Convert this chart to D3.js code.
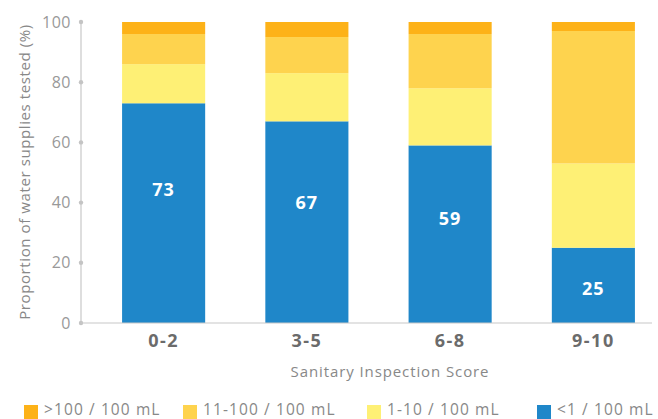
<!DOCTYPE html>
<html><head><meta charset="utf-8">
<script src="https://cdn.jsdelivr.net/npm/d3@7"></script>
<style>
body{margin:0;background:#fff;}
svg{display:block;font-family:"Open Sans",Lato,sans-serif;}
</style></head>
<body><svg id="c" width="658" height="419"></svg>
<script>
const categories = ["0-2","3-5","6-8","9-10"];
const seriesNames = ["<1 / 100 mL","1-10 / 100 mL","11-100 / 100 mL",">100 / 100 mL"];
const lt1 = [73,67,59,25];
const s1to10 = [13,16,19,28];
const s11to100 = [10,12,18,44];
const gt100 = [4,5,4,3];
const yTicks = [0,20,40,60,80,100];
const colors = ["#1F87C9","#FEF075","#FED34E","#FDB218"];

const svg = d3.select("#c");
const y = d3.scaleLinear().domain([0,100]).range([323,22]);
const x = d3.scaleBand().domain(categories).range([92,665]).paddingInner(0.42).paddingOuter(0.21);

const rows = categories.map((c,i)=>({cat:c,"<1 / 100 mL":lt1[i],"1-10 / 100 mL":s1to10[i],"11-100 / 100 mL":s11to100[i],">100 / 100 mL":gt100[i]}));
const stacked = d3.stack().keys(seriesNames)(rows);

// bars
svg.append("g").selectAll("g").data(stacked).join("g")
  .attr("fill",(d,i)=>colors[i])
  .selectAll("rect").data(d=>d).join("rect")
  .attr("x",d=>x(d.data.cat))
  .attr("width",x.bandwidth())
  .attr("y",d=>y(d[1]))
  .attr("height",d=>y(d[0])-y(d[1]));

// y axis
const yAxis = svg.append("g");
yAxis.append("line").attr("x1",81).attr("x2",81).attr("y1",y(100)).attr("y2",y(0)).attr("stroke","#c8c8c8").attr("stroke-width",1.2);
yAxis.selectAll("circle").data(yTicks).join("circle").attr("cx",81).attr("cy",d=>y(d)).attr("r",2.2).attr("fill","#c4c4c4");
yAxis.selectAll("text").data(yTicks).join("text")
  .attr("x",71).attr("y",d=>y(d)).attr("dy","0.35em").attr("text-anchor","end")
  .attr("font-size",16).attr("letter-spacing",0.5).attr("fill","#999").text(d=>d);

// x axis line
svg.append("line").attr("x1",81).attr("x2",652).attr("y1",y(0)).attr("y2",y(0)).attr("stroke","#c8c8c8").attr("stroke-width",1.2);
svg.append("g").selectAll("text").data(categories).join("text")
  .attr("x",d=>x(d)+x.bandwidth()/2).attr("y",347).attr("text-anchor","middle")
  .attr("font-size",18).attr("letter-spacing",1.5).attr("font-weight","bold").attr("fill","#6b6b6b").text(d=>d);

// bar labels
svg.append("g").selectAll("text").data(lt1).join("text")
  .attr("x",(d,i)=>x(categories[i])+x.bandwidth()/2)
  .attr("y",d=>y(0.68*d-5.5)).attr("dy","0.35em").attr("text-anchor","middle")
  .attr("font-size",18).attr("letter-spacing",1).attr("font-weight","bold").attr("fill","#fff").text(d=>d);

// axis titles
svg.append("text").attr("x",390).attr("y",377).attr("text-anchor","middle")
  .attr("font-size",15).attr("letter-spacing",0.9).attr("fill","#888").text("Sanitary Inspection Score");
svg.append("text").attr("transform","translate(30,172) rotate(-90)").attr("text-anchor","middle")
  .attr("font-size",15).attr("letter-spacing",0.6).attr("fill","#888").text("Proportion of water supplies tested (%)");

// legend
const legendOrder = [3,2,1,0];
const legendX = [24,183,367,537];
const lg = svg.append("g");
legendOrder.forEach((si,k)=>{
  lg.append("rect").attr("x",legendX[k]).attr("y",405).attr("width",14).attr("height",14).attr("fill",colors[si]);
  lg.append("text").attr("x",legendX[k]+20).attr("y",415).attr("font-size",15.5).attr("letter-spacing",1.1).attr("fill","#888").text(seriesNames[si]);
});
</script></body></html>
